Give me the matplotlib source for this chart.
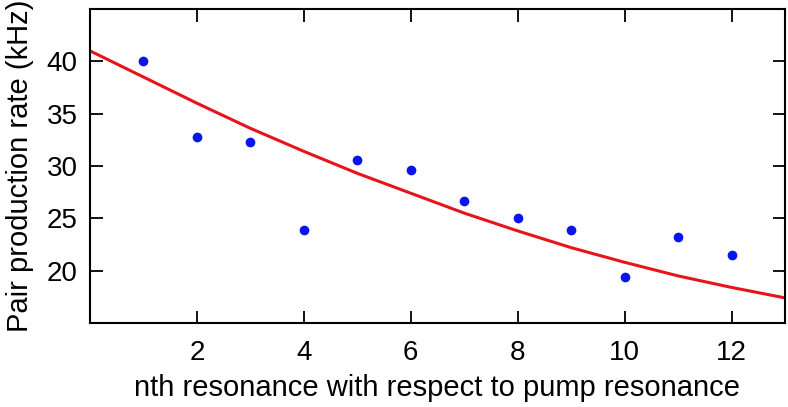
import matplotlib
matplotlib.use('Agg')
import matplotlib.pyplot as plt

# measured pair production rate per resonance
n = [1, 2, 3, 4, 5, 6, 7, 8, 9, 10, 11, 12]
rate = [40.0, 32.8, 32.3, 23.9, 30.6, 29.6, 26.7, 25.0, 23.9, 19.4, 23.2, 21.5]

fit_n = [0, 1, 2, 3, 4, 5, 6, 7, 8, 9, 10, 11, 12, 13]
fit_rate = [41.0, 38.5, 36.0, 33.6, 31.4, 29.3, 27.4, 25.5, 23.8, 22.2, 20.8, 19.5, 18.4, 17.4]

xticks = [2, 4, 6, 8, 10, 12]
yticks = [20, 25, 30, 35, 40]

plt.rcParams['font.family'] = ['Liberation Sans', 'DejaVu Sans']

fig = plt.figure(figsize=(7.88, 4.07), dpi=100)
ax = fig.add_axes([90 / 788, 1 - 323 / 407, 695 / 788, 314 / 407])

ax.plot(fit_n, fit_rate, '-', color='#e8141c', lw=2.2, zorder=2)
ax.plot(n, rate, 'o', color='#0a14f0', ms=7, mec='none', zorder=3)

ax.set_xlim(0, 13)
ax.set_ylim(15, 45)
ax.set_xticks(xticks)
ax.set_yticks(yticks)
ax.tick_params(direction='in', length=9, width=1.3, labelsize=20,
               top=True, right=True)
ax.tick_params(axis='x', pad=12)
ax.tick_params(axis='y', pad=9)
for s in ax.spines.values():
    s.set_linewidth(1.5)

ax.set_xlabel('nth resonance with respect to pump resonance', fontsize=21, labelpad=6)
ax.set_ylabel('Pair production rate (kHz)', fontsize=21, labelpad=9)

fig.savefig('out.png', dpi=100)
